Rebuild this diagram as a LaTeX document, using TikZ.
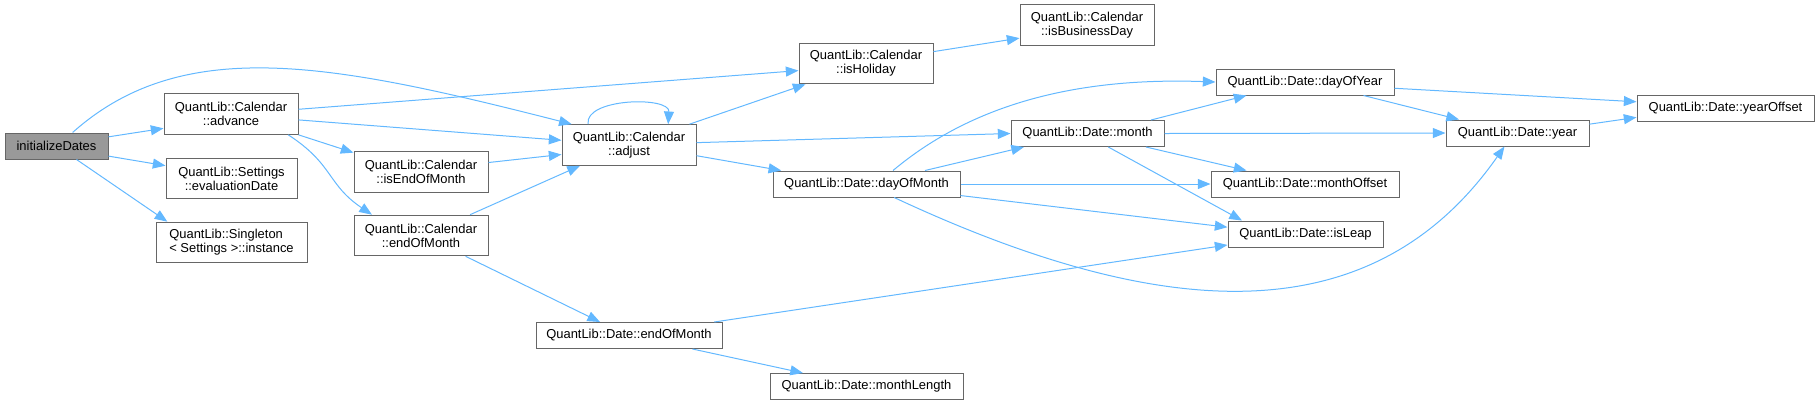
\documentclass[tikz,border=0pt]{standalone}
\usepackage{fontspec}
\setmainfont{Liberation Sans}
\usepackage{xcolor}
\usepackage{tikz}
\usetikzlibrary{arrows.meta}
\definecolor{edgeblue}{HTML}{63B8FF}
\definecolor{boxgray}{HTML}{666666}
\definecolor{rootfill}{HTML}{999999}

\begin{document}
\begin{tikzpicture}[
    x=0.75pt, y=0.75pt,
    box/.style={rectangle, draw=boxgray, line width=0.75pt,
                fill=white, align=center, inner sep=0pt,
                font=\fontsize{9.7}{10.5}\selectfont,
                minimum height=30.5pt, minimum width=100.5pt},
    flat/.style={box, minimum height=19.5pt},
    root/.style={flat, fill=rootfill},
    arrow/.style={-{Triangle[length=9.5pt,width=7.5pt]}, line width=0.75pt, draw=edgeblue}
]
\useasboundingbox (0,0) rectangle (1819,-405);

% caller and Calendar functions
\node[root, minimum width=77.25pt] (init) at (56.5,-146) {initializeDates};
\node[box] (advance) at (231,-114) {QuantLib::Calendar\\::advance};
\node[box, minimum width=98.25pt] (evaldate) at (231.5,-178.5) {QuantLib::Settings\\::evaluationDate};
\node[box, minimum width=113.25pt, align=left] (instance) at (231.5,-242.5) {QuantLib::Singleton\\< Settings >::instance};
\node[box] (isendofmonth) at (421,-172) {QuantLib::Calendar\\::isEndOfMonth};
\node[box] (calendofmonth) at (421,-235.5) {QuantLib::Calendar\\::endOfMonth};
\node[box] (adjust) at (629,-145) {QuantLib::Calendar\\::adjust};
\node[box] (isholiday) at (866,-63.5) {QuantLib::Calendar\\::isHoliday};
\node[box] (isbusinessday) at (1087,-25) {QuantLib::Calendar\\::isBusinessDay};

% Date functions
\node[flat, minimum width=140.25pt] (dayofmonth) at (866.5,-184) {QuantLib::Date::dayOfMonth};
\node[flat, minimum width=114.75pt] (month) at (1087.5,-133.5) {QuantLib::Date::month};
\node[flat, minimum width=139.5pt] (dateendofmonth) at (629,-335.5) {QuantLib::Date::endOfMonth};
\node[flat, minimum width=144.75pt] (monthlength) at (866.5,-386.5) {QuantLib::Date::monthLength};
\node[flat, minimum width=133.5pt] (dayofyear) at (1305,-82) {QuantLib::Date::dayOfYear};
\node[flat, minimum width=141pt] (monthoffset) at (1305,-184) {QuantLib::Date::monthOffset};
\node[flat, minimum width=116.25pt] (isleap) at (1305.5,-234) {QuantLib::Date::isLeap};
\node[flat, minimum width=107.25pt] (year) at (1517.5,-133) {QuantLib::Date::year};
\node[flat, minimum width=132.75pt] (yearoffset) at (1725.5,-108) {QuantLib::Date::yearOffset};

% calls from initializeDates
\draw[arrow] (init.10) -- (advance.192);
\draw[arrow] (init.40) .. controls (183,-34) and (332,-63) .. (adjust.160);
\draw[arrow] (init.-11) -- (evaldate.169);
\draw[arrow] (init.-34) -- (instance.162);

% Calendar calls
\draw[arrow] (advance.4) -- (isholiday.186);
\draw[arrow] (advance.-5) -- (adjust.176);
\draw[arrow] (advance.south east) -- (isendofmonth.164);
\draw[arrow] (advance.-20) to[out=-33,in=146,looseness=1.2] (calendofmonth.157);
\draw[arrow] (adjust.153) .. controls (584,-98) and (670,-96) .. (adjust.28);
\draw[arrow] (adjust.19) -- (isholiday.199);
\draw[arrow] (adjust.2) -- (month.west);
\draw[arrow] (adjust.-9) -- (dayofmonth.171);
\draw[arrow] (isendofmonth.8) -- (adjust.188);
\draw[arrow] (calendofmonth.23) -- (adjust.203);
\draw[arrow] (calendofmonth.-25) -- (dateendofmonth.155);
\draw[arrow] (isholiday.10) -- (isbusinessday.191);

% Date::dayOfMonth
\draw[arrow] (dayofmonth.27) to[out=40,in=178,looseness=0.9] (dayofyear.west);
\draw[arrow] (dayofmonth.13) -- (month.192);
\draw[arrow] (dayofmonth.east) -- (monthoffset.west);
\draw[arrow] (dayofmonth.-7) -- (isleap.175);
\draw[arrow] (dayofmonth.-26) .. controls (1165,-324) and (1373,-334) .. (year.226);

% Date::month
\draw[arrow] (month.12) -- (dayofyear.193);
\draw[arrow] (month.east) -- (year.west);
\draw[arrow] (month.-13) -- (monthoffset.167);
\draw[arrow] (month.-33) -- (isleap.168);

% Date::dayOfYear, Date::year, Date::endOfMonth
\draw[arrow] (dayofyear.-4) -- (yearoffset.176);
\draw[arrow] (dayofyear.-13) -- (year.167);
\draw[arrow] (year.7) -- (yearoffset.186);
\draw[arrow] (dateendofmonth.9) -- (isleap.188);
\draw[arrow] (dateendofmonth.-12) -- (monthlength.168);

\end{tikzpicture}
\end{document}
